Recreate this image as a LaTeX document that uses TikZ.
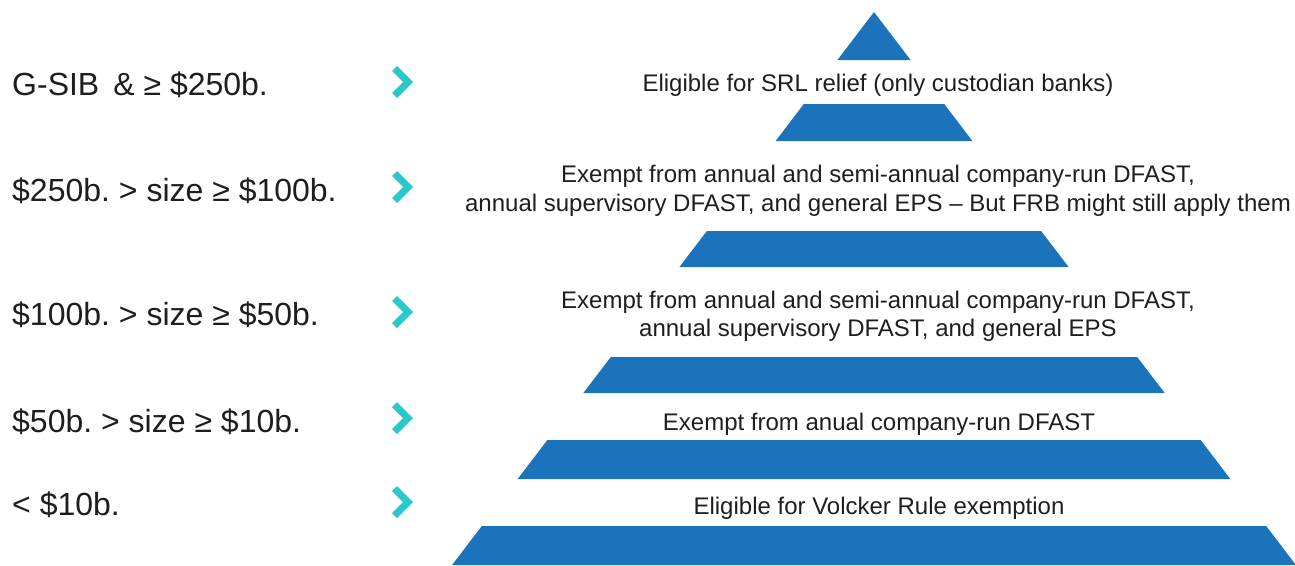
\documentclass[tikz,border=0pt]{standalone}
\usepackage{fontspec}
\setmainfont{Liberation Sans}
\usetikzlibrary{positioning}
\definecolor{pyrblue}{RGB}{27,116,187}
\definecolor{chevteal}{RGB}{42,200,200}
\definecolor{textgray}{RGB}{30,30,30}
\frenchspacing

\begin{document}
\begin{tikzpicture}[x=1pt,y=-1pt,
band/.style={fill=pyrblue},
chevron/.style={fill=chevteal},
sizelabel/.style={anchor=base west, inner sep=0pt, text=textgray, font=\fontsize{32}{36}\selectfont},
rulelabel/.style={anchor=base, inner sep=0pt, text=textgray, font=\fontsize{24}{29}\selectfont}]
\useasboundingbox (0,0) rectangle (1295,565);
% Pyramid bands
\fill[band] (874,12) -- (910.6,60) -- (837.4,60) -- cycle;
\fill[band] (803.8,104) -- (944.2,104) -- (972.4,141) -- (775.6,141) -- cycle;
\fill[band] (706.9,231) -- (1041.1,231) -- (1068.6,267) -- (679.4,267) -- cycle;
\fill[band] (610.8,357) -- (1137.2,357) -- (1164.7,393) -- (583.3,393) -- cycle;
\fill[band] (547.4,440) -- (1200.6,440) -- (1230.3,479) -- (517.7,479) -- cycle;
\fill[band] (481.8,526) -- (1266.2,526) -- (1295.9,565) -- (452.1,565) -- cycle;
% Chevrons
\fill[chevron, shift={(0,82)}] (392,-11) -- (397,-16) -- (413,0) -- (397,16) -- (392,11) -- (403,0) -- cycle;
\fill[chevron, shift={(0,187)}] (392,-11) -- (397,-16) -- (413,0) -- (397,16) -- (392,11) -- (403,0) -- cycle;
\fill[chevron, shift={(0,312)}] (392,-11) -- (397,-16) -- (413,0) -- (397,16) -- (392,11) -- (403,0) -- cycle;
\fill[chevron, shift={(0,418)}] (392,-11) -- (397,-16) -- (413,0) -- (397,16) -- (392,11) -- (403,0) -- cycle;
\fill[chevron, shift={(0,502)}] (392,-11) -- (397,-16) -- (413,0) -- (397,16) -- (392,11) -- (403,0) -- cycle;
% Size labels
\node[sizelabel] (gsib) at (12,95) {G-SIB\hspace{14pt}\& ≥ \$250b.};
\node[sizelabel] (s250) at (12,201) {\$250b. > size ≥ \$100b.};
\node[sizelabel] (s100) at (12,325) {\$100b. > size ≥ \$50b.};
\node[sizelabel] (s50) at (12,432) {\$50b. > size ≥ \$10b.};
\node[sizelabel] (s10) at (12,515) {< \$10b.};
% Rule labels
\node[rulelabel] (srl) at (878,91) {Eligible for SRL relief (only custodian banks)};
\node[rulelabel] (frba) at (878,182) {Exempt from annual and semi-annual company-run DFAST,};
\node[rulelabel] (frbb) [below=29pt of frba.base, anchor=base] {annual supervisory DFAST, and general EPS -- But FRB might still apply them};
\node[rulelabel] (epsa) at (878,308) {Exempt from annual and semi-annual company-run DFAST,};
\node[rulelabel] (epsb) [below=28pt of epsa.base, anchor=base] {annual supervisory DFAST, and general EPS};
\node[rulelabel] (dfast) at (879,430) {Exempt from anual company-run DFAST};
\node[rulelabel] (volcker) at (879,514) {Eligible for Volcker Rule exemption};
\end{tikzpicture}
\end{document}
